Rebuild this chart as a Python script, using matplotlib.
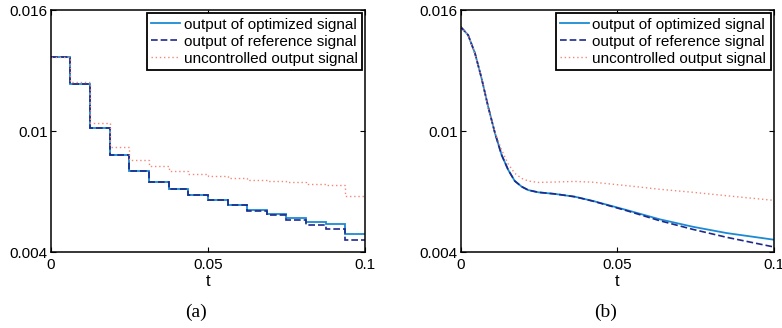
"""Two-panel comparison: optimized vs reference vs uncontrolled output signal."""
import matplotlib
matplotlib.use("Agg")
import matplotlib.pyplot as plt

plt.rcParams["font.family"] = ["Liberation Sans", "DejaVu Sans"]

# --- (a) piecewise-constant case ------------------------------------------------------------
edges_a = [0, 0.00625, 0.0125, 0.01875, 0.025, 0.03125, 0.0375, 0.04375, 0.05,
           0.05625, 0.0625, 0.06875, 0.075, 0.08125, 0.0875, 0.09375, 0.1]
opt_a = [0.01369, 0.01234, 0.01016, 0.00879, 0.0080, 0.00747, 0.00712, 0.00684,
         0.00656, 0.00631, 0.00607, 0.00589, 0.00567, 0.00550, 0.00537, 0.00489]
ref_a = [0.01369, 0.01234, 0.01016, 0.00879, 0.0080, 0.00747, 0.00712, 0.00684,
         0.00656, 0.00631, 0.00605, 0.00584, 0.00560, 0.00534, 0.00512, 0.00460]
unc_a = [0.01369, 0.01245, 0.01039, 0.00919, 0.00856, 0.00824, 0.00803, 0.00788,
         0.00778, 0.00767, 0.00758, 0.00752, 0.00745, 0.00739, 0.00731, 0.00679]

# --- (b) smooth case -------------------------------------------------------------------------
t_b = [0, 0.0024, 0.0046, 0.0067, 0.0088, 0.011, 0.0131, 0.0152, 0.0173, 0.0195,
       0.0216, 0.0248, 0.0301, 0.0365, 0.0423, 0.053, 0.0636, 0.0742, 0.0849, 0.1]
opt_b = [0.01517, 0.01476, 0.01385, 0.01261, 0.0112, 0.00988, 0.00881, 0.00807,
         0.00752, 0.00724, 0.00707, 0.00696, 0.00688, 0.00674, 0.00653, 0.00608,
         0.00562, 0.00525, 0.00494, 0.00461]
ref_b = [0.01517, 0.01476, 0.01385, 0.01261, 0.0112, 0.00988, 0.00881, 0.00807,
         0.00752, 0.00724, 0.00707, 0.00696, 0.00688, 0.00674, 0.00652, 0.00605,
         0.00555, 0.00512, 0.00473, 0.00425]
unc_b = [0.01517, 0.01476, 0.01385, 0.01261, 0.0112, 0.00992, 0.00906, 0.00836,
         0.0079, 0.00765, 0.00752, 0.00745, 0.00747, 0.0075, 0.00746, 0.00729,
         0.00711, 0.00696, 0.00679, 0.00656]

labels = ["output of optimized signal", "output of reference signal",
          "uncontrolled output signal"]
C_OPT, C_REF, C_UNC = "#1b8ad3", "#1c2a8c", "#f08878"
DASH, DOT = (0, (4, 1.8)), (0, (1, 2))

fig = plt.figure(figsize=(7.82, 3.28), dpi=100)
ax_a = fig.add_axes([0.0648, 0.2317, 0.402, 0.7378])
ax_b = fig.add_axes([0.589, 0.2317, 0.4006, 0.7378])

ax_a.stairs(opt_a, edges_a, baseline=None, color=C_OPT, lw=1.3, label=labels[0])
ax_a.stairs(ref_a, edges_a, baseline=None, color=C_REF, lw=1.2, ls=DASH, label=labels[1])
ax_a.stairs(unc_a, edges_a, baseline=None, color=C_UNC, lw=1.0, ls=DOT, label=labels[2])

ax_b.plot(t_b, opt_b, color=C_OPT, lw=1.3, label=labels[0])
ax_b.plot(t_b, ref_b, color=C_REF, lw=1.2, ls=DASH, label=labels[1])
ax_b.plot(t_b, unc_b, color=C_UNC, lw=1.0, ls=DOT, label=labels[2])

for ax, cap, cx in ((ax_a, "(a)", 0.2506), (ax_b, "(b)", 0.775)):
    ax.set_xlim(0, 0.1); ax.set_ylim(0.004, 0.016)
    ax.set_xticks([0, 0.05, 0.1]); ax.set_xticklabels(["0", "0.05", "0.1"])
    ax.set_yticks([0.004, 0.01, 0.016]); ax.set_yticklabels(["0.004", "0.01", "0.016"])
    ax.tick_params(direction="in", length=3.5, width=0.8, top=True, right=True,
                   labelsize=11)
    ax.tick_params(axis="x", pad=4.5)
    ax.tick_params(axis="y", pad=2)
    for s in ax.spines.values():
        s.set_linewidth(1.1)
    ax.set_xlabel("t", fontsize=12, labelpad=1)
    leg = ax.legend(loc="upper right", fontsize=11, fancybox=False, framealpha=1,
                    edgecolor="black", borderaxespad=0.2, handlelength=1.9,
                    handletextpad=0.2, labelspacing=0.2, borderpad=0.3)
    leg.get_frame().set_linewidth(1.3)
    fig.text(cx, 0.048, cap, ha="center", va="center", fontsize=14,
             family=["Liberation Serif", "DejaVu Serif"])

fig.savefig("out.png", dpi=100)
